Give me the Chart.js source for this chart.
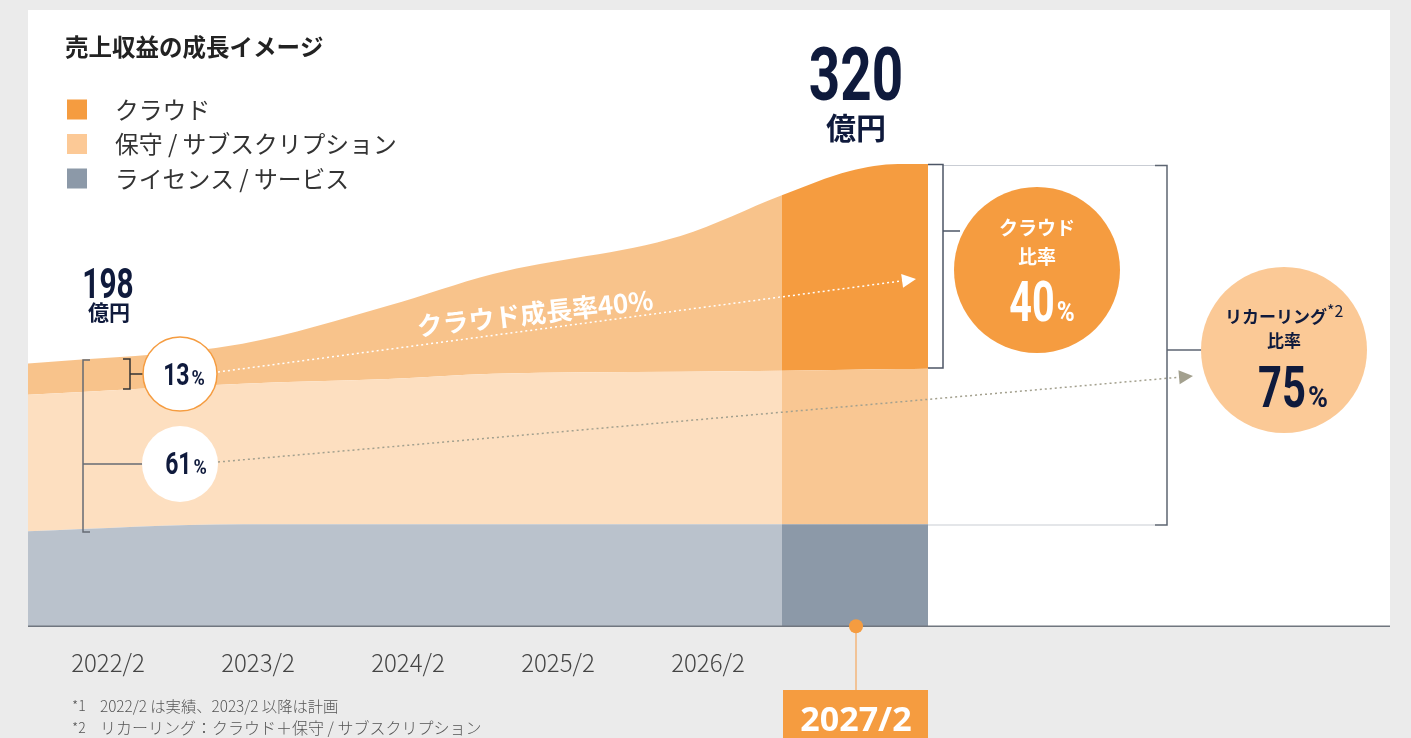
<!DOCTYPE html>
<html lang="ja">
<head>
<meta charset="utf-8">
<title>売上収益の成長イメージ</title>
<script src="https://cdn.jsdelivr.net/npm/chart.js@4.4.1/dist/chart.umd.min.js"></script>
<style>
  html, body { margin: 0; padding: 0; background: #ebebeb; }
  canvas { display: block; }
</style>
</head>
<body>
<canvas id="chart" width="1411" height="738"></canvas>
<script>
const years = ["2022/2", "2023/2", "2024/2", "2025/2", "2026/2", "2027/2"];
// position on the year axis: 0 = left edge of the 2022/2 band, 6 = right edge of 2027/2
const positions = [0, 1.43, 2.4, 3.1, 4.35, 5.03, 5.48, 5.8, 6];
const license = [65.7, 70.5, 70.5, 70.5, 70.5, 70.5, 70.5, 70.5, 70.5];
const maintenance = [94.6, 97.4, 100.6, 104.3, 105.7, 106.4, 107.1, 107.6, 107.8];
const cloud = [21.5, 27.7, 50.7, 69.1, 94.0, 121.6, 137.5, 141.9, 141.7];
const seriesNames = ["ライセンス / サービス", "保守 / サブスクリプション", "クラウド"];
const totals = [198, 320];
const cloudShare = [13, 40];
const recurringShare = [61, 75];
const highlightFrom = 5.03;

const NAVY = "#0f1a3c";
const JP = '"Noto Sans CJK JP", "Noto Sans", sans-serif';

const toPoints = (values) => values.map((v, i) => ({ x: positions[i], y: v }));

// light colour up to the 2027/2 column, dark inside it
function splitFill(light, dark) {
  return (ctx) => {
    const chart = ctx.chart;
    const area = chart.chartArea;
    if (!area) return light;
    const cut = chart.scales.xv.getPixelForValue(highlightFrom);
    const f = (cut - area.left) / (area.right - area.left);
    const g = chart.ctx.createLinearGradient(area.left, 0, area.right, 0);
    g.addColorStop(0, light);
    g.addColorStop(f, light);
    g.addColorStop(f, dark);
    g.addColorStop(1, dark);
    return g;
  };
}

function area(label, values, light, dark, legendColor, fill) {
  return {
    label,
    data: toPoints(values),
    xAxisID: "xv",
    backgroundColor: splitFill(light, dark),
    legendColor,
    fill,
    borderWidth: 0,
    pointRadius: 0,
    cubicInterpolationMode: "monotone",
    tension: 0.4,
  };
}

function condText(ctx, text, x, y, size, sx, color, align = "left") {
  ctx.save();
  ctx.translate(x, y);
  ctx.scale(sx, 1);
  ctx.font = `bold ${size}px Roboto`;
  ctx.fillStyle = color;
  ctx.textAlign = align;
  ctx.textBaseline = "alphabetic";
  ctx.fillText(text, 0, 0);
  ctx.restore();
}

function condWidth(ctx, text, size, sx) {
  ctx.save();
  ctx.font = `bold ${size}px Roboto`;
  const w = ctx.measureText(text).width * sx;
  ctx.restore();
  return w;
}

function percent(ctx, value, cx, base, size, pctSize, color) {
  const num = String(value);
  const w1 = condWidth(ctx, num, size, 0.72);
  const w2 = condWidth(ctx, "%", pctSize, 0.9);
  const x0 = cx - (w1 + w2 + 2) / 2;
  condText(ctx, num, x0, base, size, 0.72, color);
  condText(ctx, "%", x0 + w1 + 2, base, pctSize, 0.9, color);
}

function jpText(ctx, text, x, y, size, color, weight = "bold", align = "center") {
  ctx.font = `${weight} ${size}px ${JP}`;
  ctx.fillStyle = color;
  ctx.textAlign = align;
  ctx.textBaseline = "middle";
  ctx.fillText(text, x, y);
}

function line(ctx, pts, color, width = 1.5) {
  ctx.beginPath();
  ctx.moveTo(pts[0][0], pts[0][1]);
  pts.slice(1).forEach((p) => ctx.lineTo(p[0], p[1]));
  ctx.strokeStyle = color;
  ctx.lineWidth = width;
  ctx.stroke();
}

function dottedArrow(ctx, x1, y1, x2, y2, color) {
  const a = Math.atan2(y2 - y1, x2 - x1);
  ctx.save();
  ctx.setLineDash([2, 3]);
  line(ctx, [[x1, y1], [x2 - 12 * Math.cos(a), y2 - 12 * Math.sin(a)]], color, 1.5);
  ctx.restore();
  ctx.beginPath();
  ctx.moveTo(x2, y2);
  ctx.lineTo(x2 - 14 * Math.cos(a) - 7 * Math.sin(a), y2 - 14 * Math.sin(a) + 7 * Math.cos(a));
  ctx.lineTo(x2 - 14 * Math.cos(a) + 7 * Math.sin(a), y2 - 14 * Math.sin(a) - 7 * Math.cos(a));
  ctx.closePath();
  ctx.fillStyle = color;
  ctx.fill();
}

function circle(ctx, x, y, r, fill, stroke) {
  ctx.beginPath();
  ctx.arc(x, y, r, 0, Math.PI * 2);
  ctx.fillStyle = fill;
  ctx.fill();
  if (stroke) {
    ctx.strokeStyle = stroke;
    ctx.lineWidth = 1.5;
    ctx.stroke();
  }
}

const cardPlugin = {
  id: "card",
  beforeDraw(chart) {
    const ctx = chart.ctx;
    ctx.save();
    ctx.fillStyle = "#ebebeb";
    ctx.fillRect(0, 0, chart.width, chart.height);
    ctx.fillStyle = "#ffffff";
    ctx.fillRect(28, 10, 1362, chart.chartArea.bottom - 10);
    ctx.restore();
  },
};

const annotationPlugin = {
  id: "annotations",
  afterDraw(chart) {
    const ctx = chart.ctx;
    const { bottom } = chart.chartArea;
    const xs = chart.scales.x;
    ctx.save();

    // baseline
    line(ctx, [[28, bottom], [1390, bottom]], "#70767f", 1.5);

    // title and legend
    jpText(ctx, "売上収益の成長イメージ", 65, 47, 23.5, "#222", "bold", "left");
    const legendItems = chart.data.datasets.slice().reverse();
    legendItems.forEach((ds, i) => {
      const y = 109.5 + i * 34.5;
      ctx.fillStyle = ds.legendColor;
      ctx.fillRect(67, y - 10, 20, 20);
      jpText(ctx, ds.label, 115, y, 23.8, "#333", "normal", "left");
    });

    // totals
    condText(ctx, String(totals[0]), 108, 298, 42, 0.71, NAVY, "center");
    jpText(ctx, "億円", 109, 312, 21, NAVY);
    condText(ctx, String(totals[1]), 856, 100, 74, 0.74, NAVY, "center");
    jpText(ctx, "億円", 856, 128, 30, NAVY);

    // left brackets
    line(ctx, [[90, 360], [83, 360], [83, 532], [90, 532]], "#666b73");
    line(ctx, [[83, 464], [143, 464]], "#666b73");
    line(ctx, [[123, 359], [130, 359], [130, 389], [123, 389]], "#333");
    line(ctx, [[130, 374], [143, 374]], "#333");

    // dotted growth arrows
    dottedArrow(ctx, 218, 372, 916, 279, "#ffffff");
    dottedArrow(ctx, 218, 462, 1193, 376, "#a3a08e");

    // 2022 share circles
    circle(ctx, 180, 374, 37, "#ffffff", "#f59c40");
    percent(ctx, cloudShare[0], 184, 385, 32, 20, NAVY);
    circle(ctx, 180, 464, 38, "#ffffff");
    percent(ctx, recurringShare[0], 186, 474, 32, 20, NAVY);

    // growth label
    ctx.save();
    ctx.translate(535, 313);
    ctx.rotate(-6.5 * Math.PI / 180);
    jpText(ctx, "クラウド成長率40%", 0, 0, 26, "#ffffff");
    ctx.restore();

    // right brackets
    line(ctx, [[943, 165.5], [1155, 165.5]], "#c9cdd4", 1.2);
    line(ctx, [[928, 525], [1155, 525]], "#c9cdd4", 1.2);
    line(ctx, [[928, 164.5], [943, 164.5], [943, 368], [928, 368]], "#4d5666");
    line(ctx, [[943, 231], [960, 231]], "#4d5666");
    line(ctx, [[1155, 165.5], [1167, 165.5], [1167, 525], [1155, 525]], "#5d6572");
    line(ctx, [[1167, 350], [1202, 350]], "#5d6572");

    // 2027 share circles
    circle(ctx, 1037, 270, 83, "#f59c40");
    jpText(ctx, "クラウド", 1037, 228, 19, "#ffffff");
    jpText(ctx, "比率", 1037, 257, 19, "#ffffff");
    percent(ctx, cloudShare[1], 1042, 321, 55, 27, "#ffffff");

    circle(ctx, 1284, 350, 83, "#fbc996");
    jpText(ctx, "リカーリング", 1276, 317, 17, NAVY);
    jpText(ctx, "*2", 1327, 311, 16, NAVY, "normal", "left");
    jpText(ctx, "比率", 1284, 341, 17, NAVY);
    percent(ctx, recurringShare[1], 1293, 407, 58, 30, NAVY);

    // 2027/2 marker
    const mx = xs.getPixelForTick(years.length - 1) + 3;
    line(ctx, [[mx, bottom], [mx, 690]], "#f3b67b", 1.5);
    circle(ctx, mx, bottom, 7, "#f59c40");
    ctx.fillStyle = "#f59c40";
    ctx.fillRect(783, 690, 145, 48);
    ctx.font = "bold 34px 'Noto Sans', sans-serif";
    ctx.fillStyle = "#ffffff";
    ctx.textAlign = "center";
    ctx.textBaseline = "alphabetic";
    ctx.fillText(years[years.length - 1], 856, 731);

    // footnotes
    jpText(ctx, "*1", 72, 706, 14, "#555", "300", "left");
    jpText(ctx, "2022/2 は実績、2023/2 以降は計画", 100, 706, 15.3, "#555", "300", "left");
    jpText(ctx, "*2", 72, 728, 14, "#555", "300", "left");
    jpText(ctx, "リカーリング：クラウド＋保守 / サブスクリプション", 100, 728, 16, "#555", "300", "left");

    ctx.restore();
  },
};

const chartInstance = new Chart(document.getElementById("chart"), {
  type: "line",
  data: {
    labels: years,
    datasets: [
      area(seriesNames[0], license, "#bac2cc", "#8c99a8", "#8c99a8", "origin"),
      area(seriesNames[1], maintenance, "#fddfc0", "#f9c793", "#fcc996", "-1"),
      area(seriesNames[2], cloud, "#f8c38b", "#f59c40", "#f59c40", "-1"),
    ],
  },
  options: {
    responsive: false,
    animation: false,
    layout: {
      padding: { left: 28, right: 483, top: 164, bottom: 39 },
    },
    plugins: {
      legend: { display: false },
      tooltip: { enabled: false },
    },
    scales: {
      x: {
        type: "category",
        offset: true,
        grid: { display: false, drawTicks: false },
        border: { display: false },
        ticks: {
          padding: 22,
          labelOffset: 5,
          color: "#444",
          font: { family: JP, size: 24, weight: "300" },
          callback: (value, index) => (index === years.length - 1 ? "" : years[index]),
        },
      },
      xv: {
        type: "linear",
        min: 0,
        max: 6,
        display: false,
      },
      y: {
        stacked: true,
        min: 0,
        max: 320,
        display: false,
      },
    },
  },
  plugins: [cardPlugin, annotationPlugin],
});
</script>
</body>
</html>
